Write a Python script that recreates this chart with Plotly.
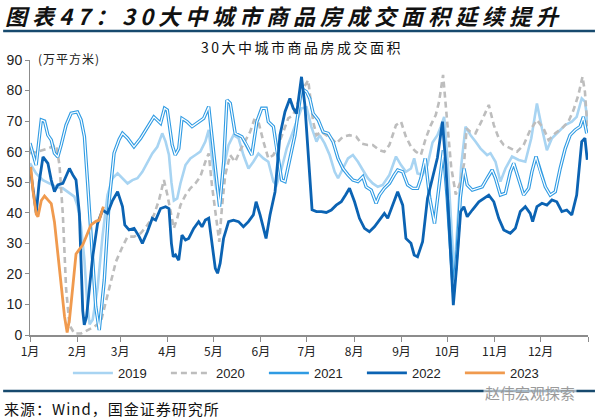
import plotly.graph_objects as go

# ---------------- data (day of year, value in 万平方米) ----------------
d2019 = [0, 4, 8.5, 12.8, 17.1, 21.5, 25.8, 29, 31.2, 33.4, 35.6, 37.5, 39, 41, 44.2, 47.5, 50.7, 54, 57.3,
         60.5, 63.8, 67, 70.3, 73.5, 76.8, 80, 83.3, 86.5, 88.7, 90.9, 92.5, 94.1, 96.3, 98.4, 101.7, 104.9,
         108.2, 111.4, 114.7, 116.9, 119, 121.8, 124, 126.6, 129.9, 133.1, 136.4, 139.6, 142.9, 146.1, 149.4,
         152.7, 155.9, 159.2, 161.3, 164.6, 167.9, 171.1, 174.4, 177.6, 180.9, 184, 187.4, 189.5, 192.7, 196,
         199.3, 201.5, 204.7, 208, 211.2, 214.5, 217.7, 221, 224.2, 227.5, 230.7, 235.1, 239.4, 242.7, 245.9,
         249.2, 251.3, 253.5, 256.8, 260, 263.3, 266.5, 268.7, 270.9, 273, 275.5, 277.5, 279.5, 282, 284.9,
         288.2, 291.4, 294.7, 299, 301.2, 304.5, 307.7, 311, 315.3, 319.7, 324, 327.9, 331.6, 334.9, 338.1,
         341.4, 345.7, 350.1, 354.4, 357.6, 360.9, 363, 364.8]
v2019 = [56.2, 52.9, 50.7, 49.6, 48.5, 48, 46.4, 45.3, 42, 35.4, 24.6, 10, 3.5, 5, 15.3, 32.7, 45.8, 51.3, 52.9,
         51.3, 49.6, 50.7, 51.3, 53.4, 56.7, 59.4, 61.6, 66, 63.3, 58.9, 50, 44, 44.7, 49.6, 55.6, 57.8,
         58.9, 60, 63.3, 67.1, 57.8, 48, 44.7, 54.5, 62.2, 65.4, 64.4, 58.9, 54.5, 56.7, 59.4,
         57.8, 56.7, 50.2, 49.1, 54.5, 61, 65.4, 69.8, 74.2, 74.5, 68.2, 63.3, 65.4, 62.7, 58.9,
         53.4, 51.3, 54.5, 57.8, 58.9, 56.7, 54, 51.3, 49.6, 48.5, 49.1, 52.4, 58.4, 55.6, 53.4,
         54.5, 57.8, 52.9, 52.4, 55.6, 63, 65.4, 68.2, 71.4, 58, 38, 20, 35, 55, 68.2,
         65.4, 63.3, 61, 58.9, 59.5, 56.7, 50.2, 54.5, 58.4, 57.3, 56.7, 64.4, 75.8, 67.6, 60.5,
         64.4, 66.5, 68.7, 69.8, 71.4, 77.4, 76.4, 69.8]

d2020 = [0, 5.2, 11.7, 17.1, 19.3, 21.5, 23.6, 25.8, 29, 33.4, 37.7, 42, 46.4, 49.7, 52.9, 56.2, 60.5, 63.8,
         68.1, 72.4, 76.8, 81.1, 84.4, 87.6, 89.8, 92, 94.1, 96.3, 98.4, 101.7, 104.9, 108.2, 111.4, 114.7,
         116.9, 119, 121.8, 123.8, 125.5, 127.7, 130.9, 134.2, 137.5, 140.7, 144, 146.6, 149.4, 152.7, 155.9,
         159.2, 162.4, 165.7, 168.9, 172.2, 175.4, 178.7, 182, 185.2, 187.4, 190.6, 193.8, 197.1, 200.3,
         204.7, 209, 213.4, 216.6, 220.9, 224.2, 228.6, 231.8, 235.1, 239.4, 242.7, 245.9, 249.2, 252.4,
         255.7, 258.9, 262.2, 265.4, 267.6, 270.2, 272.5, 275.5, 278.5, 281.5, 283.9, 285.6, 288, 291.4,
         295.8, 300.1, 303.4, 306.6, 309.9, 314.2, 318.6, 322.9, 327.2, 331.6, 335.9, 339.2, 343.6, 347.9,
         352.2, 355.5, 358.7, 361.4, 363, 364.8]
v2020 = [59.5, 60, 61, 62.2, 55.6, 39.3, 15.3, 3.3, 0.5, 0.5, 1.6, 2.7, 4.4, 10.9, 17.5, 24, 28.9, 32.2,
         32.2, 33.3, 36, 39.3, 44.2, 50.7, 46, 40.4, 34.9, 38.2, 42.5, 45.8, 48, 49.6, 51.8, 56.7,
         59.4, 49.1, 37.1, 30.5, 41.4, 52.4, 58.9, 56.7, 60.5, 63.3, 66.5, 70.4, 69.8, 63.3, 57.8,
         58.9, 62.2, 66.5, 70.9, 72, 76.4, 80.7, 83.4, 69.8, 65.4, 66.5, 65.4, 64.4, 62.7,
         64.9, 65.4, 64.9, 62.7, 62.2, 62.2, 60.5, 60, 62.2, 68.7, 69.8, 64.9, 61.6, 60,
         58.9, 64.4, 68.7, 72, 76.4, 85.1, 72, 55, 46, 50, 56, 67.6, 66.5, 66,
         70.4, 75.3, 68.7, 64.4, 62.2, 61, 60, 62.2, 67.1, 70.4, 67.6, 63.8, 66, 67.6,
         69.8, 73.6, 78.5, 84.5, 79.6, 66.5]

d2021 = [0, 4, 7.4, 9.5, 11.7, 13.9, 16, 18.2, 20.4, 23.6, 26.9, 31, 33.4, 35.6, 37.7, 40, 43, 45.3, 48.6,
         51.8, 55, 58.3, 60.5, 63.8, 68, 72.4, 76.8, 81, 85.4, 88, 89.8, 93, 95, 97.3, 99.4, 102.8, 106,
         109.3, 113.6, 116.9, 119, 122.3, 124, 126.7, 128.8, 131, 134.2, 138.6, 141.8, 145.1, 148.4, 151.6,
         154.4, 155.9, 159.2, 161.3, 164.6, 166.8, 170, 173.3, 177.6, 180.9, 183, 185.2, 188.5, 191.7, 195,
         198.2, 201.5, 204.7, 208, 211.2, 214.5, 217.7, 219.9, 223.2, 226.4, 228.6, 231.8, 235.1, 238.3,
         240.5, 243.8, 247, 250.3, 253.5, 255.7, 258.5, 261.5, 264.6, 267.4, 270.4, 273, 275, 277, 279.5,
         281.5, 283.9, 286, 289.3, 292.5, 295.8, 299, 302.3, 304.5, 307.7, 311, 314.2, 316.4, 319.7, 322.9,
         326.2, 328.3, 331, 333.8, 337.1, 340.3, 343.6, 346.8, 350.1, 353.3, 356.6, 359.8, 362, 364.2]
v2021 = [62.8, 55.6, 70.4, 70, 65.4, 63.8, 59.5, 58.3, 62.2, 68.7, 72.6, 73, 70.4, 64.9, 49.7, 31, 9.3, 1.6, 18,
         44, 59.5, 64, 66, 64.4, 61.6, 64.4, 68.2, 71.4, 69.3, 74.2, 73.6, 62.2, 58.9, 61, 70.9, 69.8, 68.2,
         69.3, 70.9, 74.7, 64.4, 50.2, 42, 56.7, 76.9, 75.8, 66, 64.9, 62.2, 58.9, 69.8, 74.2,
         74.2, 69.8, 68.2, 61, 50.7, 50.2, 57.8, 65.4, 80.7, 79.6, 77.4, 72.5, 70.4, 66.5, 66,
         63.3, 57.8, 54.5, 52.4, 50.7, 50.2, 51.8, 48.5, 47.4, 43.1, 45.8, 48, 49.6, 52.4,
         54, 53.4, 49.1, 48, 48, 51.3, 57.8, 44.7, 36.5, 48, 60.5, 44.2, 28, 14, 28,
         45, 54.5, 49.1, 47.4, 48, 48.5, 51.3, 54, 51.3, 45.8, 46.4, 53.4, 56.2, 50.7, 45.8,
         48, 53.4, 58.4, 53.4, 48.5, 45.8, 46.9, 54.5, 61, 65.4, 67.1, 68.2, 71.4, 66]

d2022 = [0, 2, 4.1, 6, 8.5, 11.7, 13.9, 16, 18.2, 21.5, 23.6, 25.8, 28, 30.1, 32.3, 33.4, 34.5, 35.5, 37, 39,
         41, 44.2, 47.5, 50.7, 54, 57.3, 60.5, 62, 64.8, 68.1, 71.4, 73.5, 76.8, 80, 82.2, 85.4, 88.7, 90.9,
         92.5, 93.7, 95.2, 97.3, 99.4, 101.7, 103.8, 107.1, 110.3, 112.5, 114.7, 116.9, 119, 121.2, 122.7,
         124.4, 126.6, 129.9, 133.1, 136.4, 139.6, 142.9, 146.1, 147.9, 150.5, 154.4, 157, 160.3, 163.5,
         166.8, 170, 172.2, 174.4, 177.6, 179.8, 182, 184.5, 187.4, 190.6, 193.8, 197.1, 200.3, 203.6,
         206.4, 209, 212.3, 215.5, 218.8, 222, 225.3, 228.6, 231.8, 234, 237.2, 240.5, 243.8, 245.9, 249.2,
         251.3, 253.5, 256.8, 260, 263.3, 266.5, 269.8, 272, 274.6, 276.9, 279, 281.7, 283.8, 286, 289.3,
         293.6, 300.1, 303.4, 306.6, 309.9, 314.2, 317.5, 320.7, 324, 327.2, 328.8, 331.6, 334.9, 338.1,
         341.4, 344.6, 347.9, 351.1, 354.4, 357.6, 360.9, 363, 364.5]
v2022 = [55, 47, 40, 50, 58.3, 56.2, 50.7, 46.9, 49.1, 49.6, 51.8, 54.5, 52.4, 50.7, 39.8, 24, 8, 3.3, 6, 16,
         25.6, 36.5, 40.9, 39.8, 44, 46.9, 42, 36, 34.4, 34.9, 32.2, 30, 33.8, 38.2, 37.6, 41.4, 42, 41.4,
         30, 25.6, 26.2, 24.5, 32.7, 31.1, 31.6, 34.9, 37.1, 35.4, 37.6, 38.2, 30.5, 21.8, 20.2,
         23.5, 31.6, 37.1, 37.6, 37.1, 35.4, 37.1, 39.3, 43.6, 39.3, 31.6, 39.3, 46.9, 65.4,
         73.1, 77.4, 74.2, 72.5, 84.5, 75.3, 58.9, 41, 40.4, 40.4, 40.1, 40.9, 42.5, 43.6,
         45.8, 48, 43.6, 38.2, 34.9, 33.8, 35.4, 37.6, 39.8, 38.2, 42.5, 46.9, 42.5, 31.6, 30,
         26.2, 25.6, 30.5, 44.7, 51.3, 58, 69.8, 55.6, 31.6, 9.8, 22, 40.4, 42, 38.7, 40.9,
         43.6, 45.8, 43.6, 38.2, 34.4, 33.3, 34.9, 40.4, 42, 39.8, 37.1, 42, 43.1, 42.5,
         44.2, 43.6, 40.4, 40.9, 39.3, 45.8, 63.3, 64.4, 57.3]

d2023 = [0.5, 2, 4.1, 5.2, 7.4, 9.5, 11.7, 13.9, 16, 18.2, 20.4, 22.6, 24.3, 25.8, 28, 30.1, 32.3, 34.5,
         36.6, 39.9, 43.1, 45.3, 48]
v2023 = [55, 47, 39.5, 38.7, 44, 45.5, 44.2, 43, 37, 27, 15, 6, 0.8, 5, 15.8, 26.5, 28, 29.5,
         32, 36, 37.2, 37.6, 42]

month_days = [0, 31, 59, 90, 120, 151, 181, 212, 243, 273, 304, 334, 365]
month_labels = ["1月", "2月", "3月", "4月", "5月", "6月", "7月", "8月", "9月", "10月", "11月", "12月", ""]
y_ticks = [0, 10, 20, 30, 40, 50, 60, 70, 80, 90]

C2019 = "#A8D4F2"
C2020 = "#BDBDBD"
C2021 = "#2F9BE3"
C2022 = "#0B63B3"
C2023 = "#F09A4E"

CJK = "Noto Sans CJK SC"
LAT = "Liberation Sans, Arial, sans-serif"

fig = go.Figure()
fig.add_trace(go.Scatter(x=d2019, y=v2019, mode="lines", name="2019", legendrank=1,
                         line=dict(color=C2019, width=2.6)))
fig.add_trace(go.Scatter(x=d2020, y=v2020, mode="lines", name="2020", legendrank=2,
                         line=dict(color=C2020, width=2.6, dash="6px,4px")))
fig.add_trace(go.Scatter(x=d2021, y=v2021, mode="lines", name="2021", showlegend=False,
                         line=dict(color=C2021, width=3.4)))
fig.add_trace(go.Scatter(x=d2021, y=v2021, mode="lines", name="2021", showlegend=False,
                         line=dict(color="white", width=1.2), hoverinfo="skip"))
fig.add_trace(go.Scatter(x=[None], y=[None], mode="lines", name="2021", legendrank=3,
                         line=dict(color=C2021, width=2.6)))
fig.add_trace(go.Scatter(x=d2022, y=v2022, mode="lines", name="2022", legendrank=4,
                         line=dict(color=C2022, width=2.8)))
fig.add_trace(go.Scatter(x=d2023, y=v2023, mode="lines", name="2023", legendrank=5,
                         line=dict(color=C2023, width=2.8)))

L, R, T, B = 27, 7, 60, 83
W, H = 595, 418
pw, ph = W - L - R, H - T - B


def px_x(p):
    return (p - L) / pw


def px_y(p):
    return (H - B - p) / ph


fig.update_layout(
    width=W, height=H,
    margin=dict(l=L, r=R, t=T, b=B),
    paper_bgcolor="white", plot_bgcolor="white",
    showlegend=True,
    legend=dict(orientation="h", x=0.507, xanchor="center", y=px_y(373), yanchor="middle",
                font=dict(family=LAT, size=13, color="#222"),
                itemwidth=40, entrywidth=43, traceorder="normal", bgcolor="rgba(0,0,0,0)"),
    xaxis=dict(range=[0, 365], tickvals=month_days, ticktext=month_labels,
               showline=True, linecolor="#8C8C8C", linewidth=1.5,
               ticks="outside", ticklen=5, tickcolor="#8C8C8C", tickwidth=1,
               showgrid=False, zeroline=False,
               tickfont=dict(family=CJK, size=12, color="#222")),
    yaxis=dict(range=[0, 90], tickvals=y_ticks,
               showline=True, linecolor="#8C8C8C", linewidth=1,
               ticks="outside", ticklen=4, tickcolor="#8C8C8C",
               showgrid=False, zeroline=False,
               tickfont=dict(family=LAT, size=14, color="#222")),
)

# Figure title
fig.add_annotation(text="<span style='letter-spacing:5px'><b><i>图表47：30大中城市商品房成交面积延续提升</i></b></span>",
                   xref="paper", yref="paper", x=px_x(0), y=px_y(15),
                   xanchor="left", yanchor="middle", showarrow=False,
                   font=dict(family=CJK, size=22, color="#111"))
# top rule
fig.add_shape(type="line", xref="paper", yref="paper", x0=px_x(0), x1=px_x(W), y0=px_y(31), y1=px_y(31),
              line=dict(color="#174A6E", width=2.5))
# chart subtitle
fig.add_annotation(text="<span style='letter-spacing:2.5px'>30大中城市商品房成交面积</span>",
                   xref="paper", yref="paper",
                   x=px_x(300), y=px_y(47), xanchor="center", yanchor="middle", showarrow=False,
                   font=dict(family=CJK, size=14, color="#111"))
# unit label
fig.add_annotation(text="<span style='letter-spacing:1px'>(万平方米)</span>", xref="paper", yref="paper",
                   x=px_x(33), y=px_y(59), xanchor="left", yanchor="middle", showarrow=False,
                   font=dict(family=CJK, size=12, color="#222"))
# bottom rule
fig.add_shape(type="line", xref="paper", yref="paper", x0=px_x(0), x1=px_x(W), y0=px_y(391), y1=px_y(391),
              line=dict(color="#174A6E", width=2.5))
# source
fig.add_annotation(text="<span style='letter-spacing:1px'>来源：Wind，国金证券研究所</span>",
                   xref="paper", yref="paper",
                   x=px_x(-1), y=px_y(408), xanchor="left", yanchor="middle", showarrow=False,
                   font=dict(family=CJK, size=15, color="#111"))
# watermark
fig.add_annotation(text="赵伟宏观探索", xref="paper", yref="paper",
                   x=px_x(577), y=px_y(392), xanchor="right", yanchor="middle", showarrow=False,
                   font=dict(family=CJK, size=15, color="#9A9A9A"), bgcolor="rgba(255,255,255,0.6)")

fig.write_html("out.html")
